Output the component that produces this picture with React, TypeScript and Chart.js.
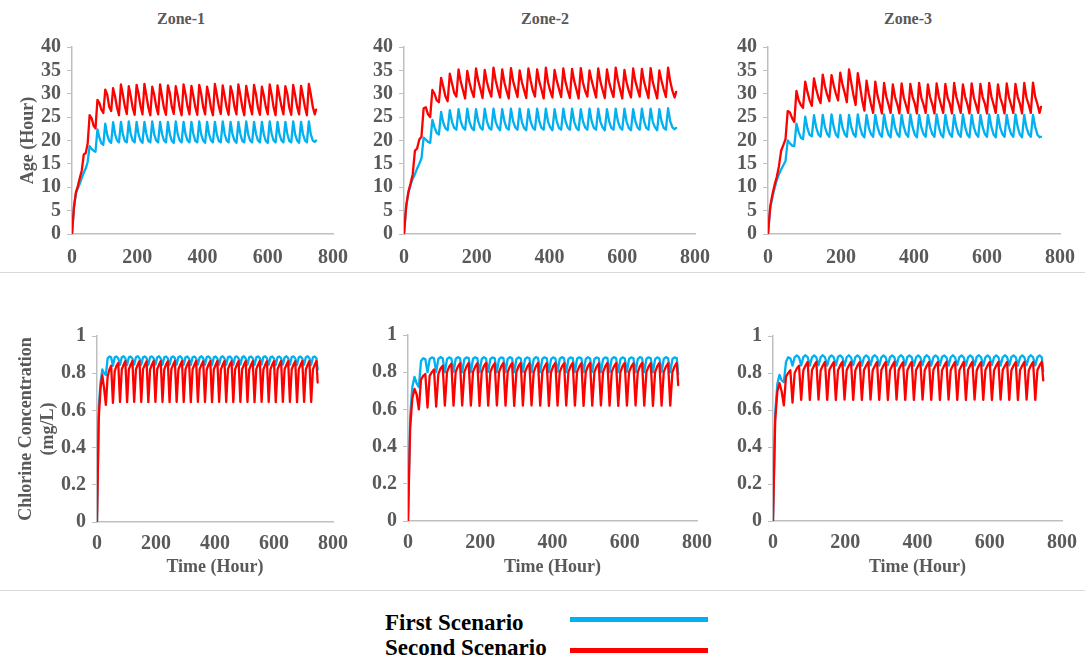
import React, { useEffect, useRef } from "react";
import { Chart, registerables } from "chart.js";

Chart.register(...registerables);

// ---------- DATA ----------
const HOURS = [
  0, 6, 12, 18, 24, 30, 36, 42, 48, 54, 60, 66, 72, 78, 84, 90, 96, 102, 108, 114, 120,
  126, 132, 138, 144, 150, 156, 162, 168, 174, 180, 186, 192, 198, 204, 210, 216, 222, 228,
  234, 240, 246, 252, 258, 264, 270, 276, 282, 288, 294, 300, 306, 312, 318, 324, 330, 336,
  342, 348, 354, 360, 366, 372, 378, 384, 390, 396, 402, 408, 414, 420, 426, 432, 438, 444,
  450, 456, 462, 468, 474, 480, 486, 492, 498, 504, 510, 516, 522, 528, 534, 540, 546, 552,
  558, 564, 570, 576, 582, 588, 594, 600, 606, 612, 618, 624, 630, 636, 642, 648, 654, 660,
  666, 672, 678, 684, 690, 696, 702, 708, 714, 720, 726, 732, 738, 744, 748,
];

const ZONES = ["Zone-1", "Zone-2", "Zone-3"];
const TIME_TICKS = [0, 200, 400, 600, 800];
const AGE_TICKS = [0, 5, 10, 15, 20, 25, 30, 35, 40];
const CHLORINE_TICKS = [0, 0.2, 0.4, 0.6, 0.8, 1];
const SERIES_NAMES = ["First Scenario", "Second Scenario"];

// Water age (hour) – first scenario
const AGE_Z1_FIRST = [
  0,
  5.6, 8.7, 9.8, 10.8, 12.0, 13.1, 14.0, 15.4, 18.8, 18.2, 17.8, 17.6, 22.4, 20.6, 19.4, 19.1,
  23.6, 21.2, 19.9, 19.5, 23.9, 21.4, 20.0, 19.6, 24.0, 21.3, 19.9, 19.6, 24.1, 21.4, 20.0, 19.6,
  24.0, 21.3, 20.0, 19.5, 24.0, 21.4, 19.9, 19.6, 24.1, 21.3, 20.0, 19.6, 24.0, 21.4, 20.0, 19.6,
  24.0, 21.3, 19.9, 19.5, 24.1, 21.4, 20.0, 19.6, 24.0, 21.3, 20.0, 19.6, 24.0, 21.4, 19.9, 19.6,
  24.1, 21.3, 20.0, 19.5, 24.0, 21.4, 20.0, 19.6, 24.0, 21.3, 19.9, 19.6, 24.1, 21.4, 20.0, 19.6,
  24.0, 21.3, 20.0, 19.5, 24.0, 21.4, 19.9, 19.6, 24.1, 21.3, 20.0, 19.6, 24.0, 21.4, 20.0, 19.6,
  24.0, 21.3, 19.9, 19.5, 24.1, 21.4, 20.0, 19.6, 24.0, 21.3, 20.0, 19.6, 24.0, 21.4, 19.9, 19.6,
  24.1, 21.3, 20.0, 19.5, 24.0, 21.4, 20.0, 19.6, 24.1, 21.3, 20.0, 19.7,
  20.0,
];
const AGE_Z2_FIRST = [
  0,
  5.8, 8.8, 10.5, 11.8, 12.8, 14.0, 15.0, 16.2, 20.6, 20.2, 19.7, 19.5, 24.4, 22.8, 21.6, 21.3,
  26.1, 23.8, 22.6, 22.2, 26.5, 24.0, 22.7, 22.3, 26.7, 24.1, 22.8, 22.3, 26.8, 24.0, 22.7, 22.2,
  26.7, 24.1, 22.8, 22.3, 26.8, 24.1, 22.7, 22.3, 26.8, 24.0, 22.8, 22.2, 26.7, 24.1, 22.7, 22.3,
  26.8, 24.1, 22.8, 22.3, 26.8, 24.0, 22.7, 22.2, 26.7, 24.1, 22.8, 22.3, 26.8, 24.1, 22.7, 22.3,
  26.8, 24.0, 22.8, 22.2, 26.7, 24.1, 22.7, 22.3, 26.8, 24.1, 22.8, 22.3, 26.8, 24.0, 22.7, 22.2,
  26.7, 24.1, 22.8, 22.3, 26.8, 24.1, 22.7, 22.3, 26.8, 24.0, 22.8, 22.2, 26.7, 24.1, 22.7, 22.3,
  26.8, 24.1, 22.8, 22.3, 26.8, 24.0, 22.7, 22.2, 26.7, 24.1, 22.8, 22.3, 26.8, 24.1, 22.7, 22.3,
  26.8, 24.0, 22.8, 22.2, 26.7, 24.1, 22.7, 22.3, 26.9, 24.1, 22.8, 22.4,
  22.7,
];
const AGE_Z3_FIRST = [
  0,
  5.5, 7.9, 9.8, 11.5, 12.8, 13.8, 14.7, 15.6, 20.0, 19.4, 18.9, 18.8, 23.6, 21.8, 20.6, 20.3,
  25.1, 22.6, 21.2, 20.9, 25.4, 22.8, 21.3, 20.8, 25.5, 22.9, 21.4, 20.8, 25.6, 22.9, 21.3, 20.7,
  25.5, 22.8, 21.4, 20.8, 25.5, 22.9, 21.4, 20.8, 25.6, 22.9, 21.3, 20.7, 25.5, 22.8, 21.4, 20.8,
  25.5, 22.9, 21.4, 20.8, 25.6, 22.9, 21.3, 20.7, 25.5, 22.8, 21.4, 20.8, 25.5, 22.9, 21.4, 20.8,
  25.6, 22.9, 21.3, 20.7, 25.5, 22.8, 21.4, 20.8, 25.5, 22.9, 21.4, 20.8, 25.6, 22.9, 21.3, 20.7,
  25.5, 22.8, 21.4, 20.8, 25.5, 22.9, 21.4, 20.8, 25.6, 22.9, 21.3, 20.7, 25.5, 22.8, 21.4, 20.8,
  25.5, 22.9, 21.4, 20.8, 25.6, 22.9, 21.3, 20.7, 25.5, 22.8, 21.4, 20.8, 25.5, 22.9, 21.4, 20.8,
  25.6, 22.9, 21.3, 20.7, 25.5, 22.8, 21.4, 20.8, 25.5, 22.9, 21.3, 20.7,
  20.8,
];

// Water age (hour) – second scenario
const AGE_Z1_SECOND = [
  0,
  5.8, 8.9, 10.3, 12.0, 13.6, 17.0, 17.3, 19.3, 25.4, 24.8, 23.2, 22.6, 28.7, 28.0, 26.6, 25.9,
  30.9, 29.8, 27.2, 26.3, 31.2, 29.4, 27.0, 25.4, 32.0, 29.8, 27.3, 25.7, 31.6, 29.5, 27.0, 25.5,
  31.9, 30.0, 27.4, 25.6, 32.1, 29.6, 27.1, 25.4, 31.5, 29.8, 27.3, 25.6, 32.0, 29.4, 26.9, 25.5,
  31.8, 30.1, 27.2, 25.7, 31.6, 29.6, 27.0, 25.4, 32.0, 29.9, 27.3, 25.6, 31.7, 29.5, 27.1, 25.5,
  31.9, 30.0, 27.2, 25.6, 31.5, 29.6, 26.9, 25.4, 32.1, 29.8, 27.3, 25.7, 31.8, 29.5, 27.0, 25.5,
  31.6, 30.0, 27.2, 25.6, 32.0, 29.7, 27.1, 25.4, 31.7, 29.4, 27.3, 25.6, 31.9, 29.9, 27.0, 25.5,
  31.5, 29.6, 27.2, 25.6, 32.0, 29.8, 27.1, 25.4, 31.8, 29.5, 27.3, 25.6, 31.6, 30.0, 27.0, 25.5,
  31.9, 29.7, 27.2, 25.6, 31.7, 29.5, 27.1, 25.4, 32.1, 29.9, 27.2, 25.6,
  26.6,
];
const AGE_Z2_SECOND = [
  0,
  6.0, 9.0, 10.8, 12.8, 17.8, 18.3, 20.2, 20.8, 26.9, 27.1, 25.6, 25.0, 30.8, 30.0, 28.6, 28.2,
  33.4, 31.5, 29.4, 28.4, 34.3, 32.2, 30.2, 29.4, 35.2, 32.6, 30.8, 29.0, 34.9, 32.4, 30.6, 29.3,
  35.4, 32.8, 31.0, 29.1, 35.1, 32.5, 30.7, 29.4, 35.6, 32.9, 30.9, 29.2, 35.2, 32.4, 30.6, 29.0,
  35.5, 32.7, 31.0, 29.3, 35.0, 32.5, 30.8, 29.1, 35.4, 32.9, 30.7, 29.4, 35.2, 32.6, 30.9, 29.0,
  35.6, 32.4, 30.6, 29.2, 35.1, 32.8, 31.0, 29.3, 35.4, 32.5, 30.7, 29.1, 35.3, 32.7, 30.9, 29.0,
  35.5, 32.4, 30.6, 29.4, 35.0, 32.8, 31.0, 29.2, 35.4, 32.6, 30.8, 29.1, 35.2, 32.5, 30.7, 29.3,
  35.6, 32.9, 30.9, 29.0, 35.1, 32.4, 30.6, 29.2, 35.4, 32.7, 31.0, 29.4, 35.3, 32.6, 30.8, 29.1,
  35.5, 32.5, 30.7, 29.0, 35.0, 32.8, 30.9, 29.3, 35.6, 32.6, 30.6, 29.2,
  30.4,
];
const AGE_Z3_SECOND = [
  0,
  5.8, 8.4, 10.5, 12.2, 14.5, 17.8, 19.0, 20.3, 26.3, 26.0, 24.8, 24.0, 30.6, 28.6, 27.6, 27.0,
  32.6, 30.4, 28.6, 27.4, 33.3, 31.0, 29.2, 28.0, 34.1, 31.6, 29.8, 28.4, 34.0, 31.8, 30.0, 28.6,
  34.5, 32.0, 30.2, 28.2, 35.2, 32.4, 29.8, 27.6, 34.4, 31.6, 28.6, 26.4, 32.8, 30.0, 27.8, 25.9,
  32.6, 29.6, 27.8, 25.8, 32.3, 29.4, 27.7, 25.9, 32.0, 29.3, 27.8, 25.8, 32.2, 29.2, 27.6, 25.9,
  32.1, 29.4, 27.9, 25.8, 32.3, 29.2, 27.7, 25.9, 32.0, 29.3, 27.8, 25.8, 32.2, 29.4, 27.6, 25.9,
  32.1, 29.2, 27.9, 25.8, 32.3, 29.3, 27.7, 25.9, 32.0, 29.4, 27.8, 25.8, 32.2, 29.2, 27.6, 25.9,
  32.1, 29.3, 27.9, 25.8, 32.3, 29.4, 27.7, 25.9, 32.0, 29.2, 27.8, 25.8, 32.2, 29.3, 27.6, 25.9,
  32.1, 29.4, 27.9, 25.8, 32.3, 29.2, 27.7, 25.9, 32.4, 29.4, 27.8, 25.9,
  27.2,
];

// Chlorine concentration (mg/L) – first scenario
const CL_Z1_FIRST = [
  0,
  0.62, 0.75, 0.82, 0.8, 0.79, 0.88, 0.89, 0.885, 0.84, 0.885, 0.89, 0.88, 0.845, 0.886, 0.891, 0.88,
  0.844, 0.885, 0.89, 0.879, 0.846, 0.886, 0.891, 0.88, 0.845, 0.885, 0.89, 0.881, 0.844, 0.887, 0.89, 0.88,
  0.846, 0.885, 0.891, 0.879, 0.845, 0.886, 0.89, 0.88, 0.844, 0.885, 0.89, 0.881, 0.846, 0.887, 0.891, 0.88,
  0.845, 0.885, 0.89, 0.879, 0.844, 0.886, 0.89, 0.88, 0.846, 0.885, 0.891, 0.881, 0.845, 0.887, 0.89, 0.88,
  0.844, 0.885, 0.89, 0.879, 0.846, 0.886, 0.891, 0.88, 0.845, 0.885, 0.89, 0.881, 0.844, 0.887, 0.89, 0.88,
  0.846, 0.885, 0.891, 0.879, 0.845, 0.886, 0.89, 0.88, 0.844, 0.885, 0.89, 0.881, 0.846, 0.887, 0.891, 0.88,
  0.845, 0.885, 0.89, 0.879, 0.844, 0.886, 0.89, 0.88, 0.846, 0.885, 0.891, 0.881, 0.845, 0.887, 0.89, 0.88,
  0.844, 0.885, 0.89, 0.879, 0.846, 0.886, 0.891, 0.88, 0.845, 0.886, 0.89, 0.88,
  0.82,
];
const CL_Z2_FIRST = [
  0,
  0.56, 0.72, 0.775, 0.74, 0.72, 0.86, 0.875, 0.87, 0.8, 0.87, 0.88, 0.875, 0.801, 0.871, 0.881, 0.875,
  0.8, 0.87, 0.88, 0.874, 0.802, 0.871, 0.881, 0.875, 0.8, 0.87, 0.88, 0.876, 0.801, 0.872, 0.88, 0.875,
  0.8, 0.87, 0.881, 0.874, 0.802, 0.871, 0.88, 0.875, 0.8, 0.87, 0.88, 0.876, 0.801, 0.872, 0.881, 0.875,
  0.8, 0.87, 0.88, 0.874, 0.802, 0.871, 0.88, 0.875, 0.8, 0.87, 0.881, 0.876, 0.801, 0.872, 0.88, 0.875,
  0.8, 0.87, 0.88, 0.874, 0.802, 0.871, 0.881, 0.875, 0.8, 0.87, 0.88, 0.876, 0.801, 0.872, 0.88, 0.875,
  0.8, 0.87, 0.881, 0.874, 0.802, 0.871, 0.88, 0.875, 0.8, 0.87, 0.88, 0.876, 0.801, 0.872, 0.881, 0.875,
  0.8, 0.87, 0.88, 0.874, 0.802, 0.871, 0.88, 0.875, 0.8, 0.87, 0.881, 0.876, 0.801, 0.872, 0.88, 0.875,
  0.8, 0.87, 0.88, 0.874, 0.802, 0.871, 0.881, 0.875, 0.8, 0.871, 0.88, 0.876,
  0.79,
];
const CL_Z3_FIRST = [
  0,
  0.58, 0.74, 0.79, 0.76, 0.75, 0.86, 0.885, 0.88, 0.84, 0.885, 0.895, 0.885, 0.841, 0.886, 0.896, 0.885,
  0.84, 0.885, 0.895, 0.884, 0.842, 0.886, 0.896, 0.885, 0.84, 0.885, 0.895, 0.886, 0.841, 0.887, 0.895, 0.885,
  0.84, 0.885, 0.896, 0.884, 0.842, 0.886, 0.895, 0.885, 0.84, 0.885, 0.895, 0.886, 0.841, 0.887, 0.896, 0.885,
  0.84, 0.885, 0.895, 0.884, 0.842, 0.886, 0.895, 0.885, 0.84, 0.885, 0.896, 0.886, 0.841, 0.887, 0.895, 0.885,
  0.84, 0.885, 0.895, 0.884, 0.842, 0.886, 0.896, 0.885, 0.84, 0.885, 0.895, 0.886, 0.841, 0.887, 0.895, 0.885,
  0.84, 0.885, 0.896, 0.884, 0.842, 0.886, 0.895, 0.885, 0.84, 0.885, 0.895, 0.886, 0.841, 0.887, 0.896, 0.885,
  0.84, 0.885, 0.895, 0.884, 0.842, 0.886, 0.895, 0.885, 0.84, 0.885, 0.896, 0.886, 0.841, 0.887, 0.895, 0.885,
  0.84, 0.885, 0.895, 0.884, 0.842, 0.886, 0.896, 0.885, 0.841, 0.886, 0.895, 0.885,
  0.81,
];

// Chlorine concentration (mg/L) – second scenario
const CL_Z1_SECOND = [
  0,
  0.56, 0.72, 0.79, 0.72, 0.63, 0.78, 0.82, 0.84, 0.64, 0.81, 0.84, 0.855, 0.645, 0.82, 0.845, 0.865,
  0.644, 0.821, 0.846, 0.866, 0.646, 0.82, 0.845, 0.865, 0.645, 0.822, 0.844, 0.864, 0.644, 0.82, 0.846, 0.866,
  0.646, 0.821, 0.845, 0.865, 0.645, 0.82, 0.846, 0.864, 0.644, 0.822, 0.845, 0.866, 0.646, 0.82, 0.844, 0.865,
  0.645, 0.821, 0.846, 0.865, 0.644, 0.82, 0.845, 0.866, 0.646, 0.822, 0.845, 0.864, 0.645, 0.82, 0.846, 0.865,
  0.644, 0.821, 0.844, 0.866, 0.646, 0.82, 0.845, 0.865, 0.645, 0.822, 0.846, 0.864, 0.644, 0.82, 0.845, 0.866,
  0.646, 0.821, 0.845, 0.865, 0.645, 0.82, 0.844, 0.865, 0.644, 0.822, 0.846, 0.866, 0.646, 0.82, 0.845, 0.864,
  0.645, 0.821, 0.846, 0.865, 0.644, 0.82, 0.845, 0.866, 0.646, 0.822, 0.844, 0.865, 0.645, 0.82, 0.846, 0.864,
  0.644, 0.821, 0.845, 0.866, 0.646, 0.82, 0.845, 0.865, 0.645, 0.821, 0.846, 0.866,
  0.75,
];
const CL_Z2_SECOND = [
  0,
  0.5, 0.66, 0.71, 0.68, 0.6, 0.76, 0.78, 0.79, 0.61, 0.78, 0.8, 0.815, 0.615, 0.79, 0.82, 0.835,
  0.62, 0.8, 0.83, 0.845, 0.62, 0.801, 0.83, 0.848, 0.621, 0.8, 0.831, 0.85, 0.62, 0.802, 0.83, 0.849,
  0.619, 0.8, 0.832, 0.85, 0.62, 0.801, 0.83, 0.848, 0.621, 0.8, 0.831, 0.85, 0.62, 0.802, 0.83, 0.849,
  0.619, 0.8, 0.832, 0.85, 0.62, 0.801, 0.83, 0.848, 0.621, 0.8, 0.831, 0.85, 0.62, 0.802, 0.83, 0.849,
  0.619, 0.8, 0.832, 0.85, 0.62, 0.801, 0.83, 0.848, 0.621, 0.8, 0.831, 0.85, 0.62, 0.802, 0.83, 0.849,
  0.619, 0.8, 0.832, 0.85, 0.62, 0.801, 0.83, 0.848, 0.621, 0.8, 0.831, 0.85, 0.62, 0.802, 0.83, 0.849,
  0.619, 0.8, 0.832, 0.85, 0.62, 0.801, 0.83, 0.848, 0.621, 0.8, 0.831, 0.85, 0.62, 0.802, 0.83, 0.849,
  0.619, 0.8, 0.832, 0.85, 0.62, 0.801, 0.83, 0.848, 0.62, 0.801, 0.831, 0.85,
  0.73,
];
const CL_Z3_SECOND = [
  0,
  0.54, 0.7, 0.745, 0.7, 0.625, 0.78, 0.8, 0.815, 0.64, 0.8, 0.825, 0.84, 0.655, 0.815, 0.84, 0.86,
  0.654, 0.816, 0.841, 0.861, 0.656, 0.815, 0.84, 0.86, 0.655, 0.817, 0.839, 0.859, 0.654, 0.815, 0.841, 0.861,
  0.656, 0.816, 0.84, 0.86, 0.655, 0.815, 0.841, 0.859, 0.654, 0.817, 0.84, 0.861, 0.656, 0.815, 0.839, 0.86,
  0.655, 0.816, 0.841, 0.86, 0.654, 0.815, 0.84, 0.861, 0.656, 0.817, 0.84, 0.859, 0.655, 0.815, 0.841, 0.86,
  0.654, 0.816, 0.839, 0.861, 0.656, 0.815, 0.84, 0.86, 0.655, 0.817, 0.841, 0.859, 0.654, 0.815, 0.84, 0.861,
  0.656, 0.816, 0.84, 0.86, 0.655, 0.815, 0.839, 0.86, 0.654, 0.817, 0.841, 0.861, 0.656, 0.815, 0.84, 0.859,
  0.655, 0.816, 0.841, 0.86, 0.654, 0.815, 0.84, 0.861, 0.656, 0.817, 0.839, 0.86, 0.655, 0.815, 0.841, 0.859,
  0.654, 0.816, 0.84, 0.861, 0.656, 0.815, 0.84, 0.86, 0.655, 0.816, 0.841, 0.861,
  0.76,
];

// ---------- STYLE ----------
const BLUE = "#00B0F0";
const RED = "#FF0000";
const TEXT_GRAY = "#595959";
const AXIS_GRAY = "#BFBFBF";
const SERIF = "'Liberation Serif', 'Times New Roman', serif";

type PanelSpec = {
  key: string;
  left: number;
  top: number;
  width: number;
  height: number;
  padTop: number;
  padRight: number;
  yWidth: number;
  xHeight: number;
  xTickPad: number;
  yMax: number;
  yTicks: number[];
  first: number[];
  second: number[];
  yTitle?: string | string[];
  yTitlePad?: number;
  xTitle?: string;
  xTitlePad?: number;
};

function Panel({ spec }: { spec: PanelSpec }) {
  const ref = useRef<HTMLCanvasElement | null>(null);
  useEffect(() => {
    if (!ref.current) return;
    const toPoints = (vals: number[]) => HOURS.map((h, i) => ({ x: h, y: vals[i] }));
    const tickFont = { family: SERIF, size: 20, weight: "bold" as const };
    const titleFont = { family: SERIF, size: 18, weight: "bold" as const };
    const lineStyle = {
      borderWidth: 2.3,
      pointRadius: 0,
      tension: 0,
      fill: false,
      borderJoinStyle: "round" as const,
      borderCapStyle: "round" as const,
    };
    const chart = new Chart(ref.current, {
      type: "line",
      data: {
        datasets: [
          { label: SERIES_NAMES[1], data: toPoints(spec.second), borderColor: RED, backgroundColor: RED, ...lineStyle },
          { label: SERIES_NAMES[0], data: toPoints(spec.first), borderColor: BLUE, backgroundColor: BLUE, ...lineStyle },
        ],
      },
      options: {
        responsive: false,
        animation: false,
        devicePixelRatio: 1,
        events: [],
        layout: { padding: { top: spec.padTop, right: spec.padRight, bottom: 0, left: 0 } },
        plugins: { legend: { display: false }, tooltip: { enabled: false }, title: { display: false } },
        scales: {
          x: {
            type: "linear",
            min: 0,
            max: 800,
            afterBuildTicks: (s: any) => {
              s.ticks = TIME_TICKS.map((v) => ({ value: v }));
            },
            afterFit: (s: any) => {
              s.height = spec.xHeight;
            },
            grid: { display: false, drawTicks: false },
            border: { display: true, color: AXIS_GRAY, width: 1.5 },
            ticks: {
              color: TEXT_GRAY,
              font: tickFont,
              padding: spec.xTickPad,
              maxRotation: 0,
              autoSkip: false,
              callback: (v: any) => String(v),
            },
            title: spec.xTitle
              ? {
                  display: true,
                  text: spec.xTitle,
                  color: TEXT_GRAY,
                  font: titleFont,
                  padding: { top: 0, bottom: spec.xTitlePad ?? 12 },
                }
              : { display: false },
          },
          y: {
            type: "linear",
            min: 0,
            max: spec.yMax,
            afterBuildTicks: (s: any) => {
              s.ticks = spec.yTicks.map((v) => ({ value: v }));
            },
            afterFit: (s: any) => {
              s.width = spec.yWidth;
            },
            grid: {
              display: true,
              drawOnChartArea: false,
              drawTicks: true,
              tickLength: 5,
              color: AXIS_GRAY,
              lineWidth: 1,
            },
            border: { display: true, color: AXIS_GRAY, width: 1.5 },
            ticks: {
              color: TEXT_GRAY,
              font: tickFont,
              padding: 6,
              autoSkip: false,
              callback: (v: any) => String(v),
            },
            title: spec.yTitle
              ? {
                  display: true,
                  text: spec.yTitle,
                  color: TEXT_GRAY,
                  font: titleFont,
                  padding: { top: spec.yTitlePad ?? 16, bottom: 0 },
                }
              : { display: false },
          },
        },
      } as any,
    });
    return () => chart.destroy();
  }, [spec]);
  return (
    <canvas
      ref={ref}
      width={spec.width}
      height={spec.height}
      style={{ position: "absolute", left: spec.left, top: spec.top, width: spec.width, height: spec.height }}
    />
  );
}

const PANELS: PanelSpec[] = [
  { key: "a1", left: 0, top: 28, width: 363, height: 242, padTop: 19, padRight: 30, yWidth: 72, xHeight: 36, xTickPad: 12,
    yMax: 40, yTicks: AGE_TICKS, first: AGE_Z1_FIRST, second: AGE_Z1_SECOND, yTitle: "Age (Hour)", yTitlePad: 18 },
  { key: "a2", left: 360, top: 28, width: 365, height: 242, padTop: 19, padRight: 30, yWidth: 44, xHeight: 36, xTickPad: 12,
    yMax: 40, yTicks: AGE_TICKS, first: AGE_Z2_FIRST, second: AGE_Z2_SECOND },
  { key: "a3", left: 720, top: 28, width: 370, height: 242, padTop: 19, padRight: 30, yWidth: 48, xHeight: 36, xTickPad: 12,
    yMax: 40, yTicks: AGE_TICKS, first: AGE_Z3_FIRST, second: AGE_Z3_SECOND },
  { key: "c1", left: 0, top: 300, width: 363, height: 290, padTop: 36, padRight: 30, yWidth: 97, xHeight: 68, xTickPad: 10,
    yMax: 1, yTicks: CHLORINE_TICKS, first: CL_Z1_FIRST, second: CL_Z1_SECOND,
    yTitle: ["Chlorine Concentration", "(mg/L)"], yTitlePad: 16, xTitle: "Time (Hour)", xTitlePad: 12 },
  { key: "c2", left: 360, top: 300, width: 367, height: 290, padTop: 35, padRight: 30, yWidth: 48, xHeight: 69, xTickPad: 10,
    yMax: 1, yTicks: CHLORINE_TICKS, first: CL_Z2_FIRST, second: CL_Z2_SECOND, xTitle: "Time (Hour)", xTitlePad: 12 },
  { key: "c3", left: 720, top: 300, width: 372, height: 290, padTop: 36, padRight: 30, yWidth: 53, xHeight: 69, xTickPad: 10,
    yMax: 1, yTicks: CHLORINE_TICKS, first: CL_Z3_FIRST, second: CL_Z3_SECOND, xTitle: "Time (Hour)", xTitlePad: 12 },
];

const TITLE_CENTERS = [181, 545, 908];

export default function App() {
  return (
    <div
      style={{
        position: "absolute",
        left: 0,
        top: 0,
        width: 1085,
        height: 658,
        background: "#ffffff",
        overflow: "hidden",
        fontFamily: SERIF,
      }}
    >
      {ZONES.map((z, i) => (
        <div
          key={z}
          style={{
            position: "absolute",
            left: TITLE_CENTERS[i] - 60,
            width: 120,
            top: 11,
            textAlign: "center",
            fontSize: 16,
            lineHeight: "16px",
            fontWeight: "bold",
            color: TEXT_GRAY,
          }}
        >
          {z}
        </div>
      ))}
      <div style={{ position: "absolute", left: 0, top: 272, width: 1085, height: 1, background: "#D9D9D9" }} />
      <div style={{ position: "absolute", left: 0, top: 590, width: 1085, height: 1, background: "#D9D9D9" }} />
      {PANELS.map((p) => (
        <Panel key={p.key} spec={p} />
      ))}
      <div
        style={{
          position: "absolute",
          left: 385,
          top: 611,
          fontSize: 23,
          lineHeight: "23px",
          fontWeight: "bold",
          color: "#000",
          whiteSpace: "nowrap",
        }}
      >
        {SERIES_NAMES[0]}
      </div>
      <div
        style={{
          position: "absolute",
          left: 385,
          top: 636,
          fontSize: 23,
          lineHeight: "23px",
          fontWeight: "bold",
          color: "#000",
          whiteSpace: "nowrap",
        }}
      >
        {SERIES_NAMES[1]}
      </div>
      <div style={{ position: "absolute", left: 570, top: 617, width: 138, height: 5, background: BLUE }} />
      <div style={{ position: "absolute", left: 570, top: 648, width: 138, height: 5, background: RED }} />
    </div>
  );
}
